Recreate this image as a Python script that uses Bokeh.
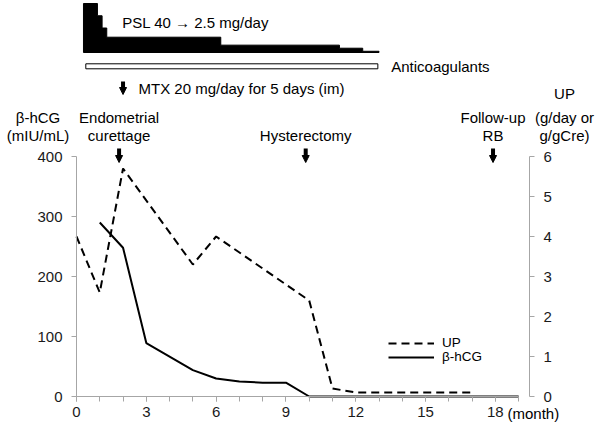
from bokeh.plotting import figure
from bokeh.models import (Range1d, LinearAxis, FixedTicker, SingleIntervalTicker,
                          Label, Arrow, NormalHead, Legend, LegendItem)
from bokeh.embed import file_html
from bokeh.resources import INLINE

# ---------------- data ----------------
months_hcg = [1, 2, 3, 5, 6, 7, 8, 9, 10, 19]
hcg = [290, 248, 89, 44, 30, 25, 23, 23, 0, 0]

months_up = [0, 1, 2, 5, 6, 10, 11, 12, 17]
up = [4.0, 2.6, 5.7, 3.3, 4.0, 2.4, 0.2, 0.1, 0.1]

psl_start = [0.3, 0.9, 1.1, 1.3, 6.2, 11.3, 12.3]
psl_end = [0.9, 1.1, 1.3, 6.2, 11.3, 12.3, 13.0]
psl_dose = [40, 30, 20, 12.5, 6, 3.5, 1]

anticoag_start = [0.4]
anticoag_end = [12.95]

event_month = [1.83, 9.85, 17.9]
event_line1 = ["Endometrial", "", "Follow-up"]
event_line2 = ["curettage", "Hysterectomy", "RB"]
mtx_month = 2.0

hcg_ticks = [0, 100, 200, 300, 400]
up_ticks = [0, 1, 2, 3, 4, 5, 6]

# ---------------- geometry (canvas == frame) ----------------
W, H = 600, 426
X0, XS = 76.0, 23.27      # px of month 0, px per month
Y0, YS = 396.0, 0.6       # px of hCG 0, px per mIU/mL
RIGHT_AXIS_MONTH = (529 - X0) / XS

def ix(px):  # canvas px -> month
    return (px - X0) / XS

def iy(py):  # canvas px -> hCG units
    return (Y0 - py) / YS

FONT = "Liberation Sans"
FS = "15px"
AX_COL = "#a6a6a6"

p = figure(width=W, height=H, output_backend="svg", toolbar_location=None,
           x_range=Range1d(ix(0), ix(W)), y_range=Range1d(iy(H), iy(0)),
           min_border=0, x_axis_type=None, y_axis_type=None)
p.outline_line_color = None
p.grid.visible = False
p.background_fill_color = "white"
p.border_fill_color = "white"

p.extra_y_ranges = {"up": Range1d(iy(H) * 6 / 400.0, iy(0) * 6 / 400.0)}

def style_axis(ax):
    ax.axis_line_color = AX_COL
    ax.major_tick_line_color = AX_COL
    ax.minor_tick_line_color = AX_COL
    ax.major_tick_in = 0
    ax.major_tick_out = 5
    ax.minor_tick_in = 0
    ax.minor_tick_out = 5
    ax.major_label_text_font = FONT
    ax.major_label_text_font_size = FS
    ax.major_label_text_color = "#1a1a1a"

xaxis = LinearAxis(ticker=SingleIntervalTicker(interval=3, num_minor_ticks=3),
                   bounds=(0, 19), fixed_location=0)
style_axis(xaxis)
xaxis.major_label_standoff = 5
p.add_layout(xaxis, "below")

yaxis = LinearAxis(ticker=FixedTicker(ticks=hcg_ticks), bounds=(0, 400), fixed_location=0)
style_axis(yaxis)
yaxis.major_label_standoff = 9
yaxis.minor_tick_line_color = None
p.add_layout(yaxis, "left")

raxis = LinearAxis(y_range_name="up", ticker=FixedTicker(ticks=up_ticks), bounds=(0, 6),
                   fixed_location=RIGHT_AXIS_MONTH)
style_axis(raxis)
raxis.major_label_standoff = 9
raxis.minor_tick_line_color = None
p.add_layout(raxis, "right")

# ---------------- series ----------------
r_up = p.line(months_up, up, y_range_name="up", line_color="black", line_width=2,
              line_dash="8 5")
r_hcg = p.line(months_hcg, hcg, line_color="black", line_width=2)

def one_legend(label, rend, ybottom):
    lg = Legend(items=[LegendItem(label=label, renderers=[rend])],
                location=(388, ybottom), orientation="vertical",
                glyph_width=46, glyph_height=10, label_height=10,
                label_standoff=8, spacing=0, padding=0, margin=0,
                label_text_font=FONT, label_text_font_size="13.5px",
                label_text_color="black",
                border_line_color=None, background_fill_alpha=0)
    p.add_layout(lg)

one_legend("UP", r_up, 76)
one_legend("β-hCG", r_hcg, 62)

# ---------------- PSL steps (one stepped patch) ----------------
PX_PER_MG = 1.225
base = iy(52)
px_, py_ = [psl_start[0]], [base]
for s, e, d in zip(psl_start, psl_end, psl_dose):
    top = iy(52 - d * PX_PER_MG)
    px_ += [s, e]
    py_ += [top, top]
px_.append(psl_end[-1])
py_.append(base)
p.patch(px_, py_, fill_color="black", line_color="black", line_width=1)

p.quad(left=anticoag_start, right=anticoag_end, bottom=[iy(68.3)], top=[iy(63.3)],
       fill_color="white", line_color="black", line_width=1)

def lab(x, y, text, align="left", size=FS):
    p.add_layout(Label(x=x, y=y, text=text, text_align=align, text_baseline="middle",
                       text_font=FONT, text_font_size=size, text_color="black"))

lab(ix(121.7), iy(21.7), "PSL 40 \u2192 2.5 mg/day")
lab(ix(390.7), iy(66), "Anticoagulants")
lab(ix(138), iy(88), "MTX 20 mg/day for 5 days (im)")

def down_arrow(xm, y0, y1):
    p.add_layout(Arrow(end=NormalHead(size=7, fill_color="black", line_color="black",
                                      line_width=1),
                       x_start=xm, y_start=y0, x_end=xm, y_end=y1,
                       line_color="black", line_width=4))

down_arrow(mtx_month, iy(81), iy(94))

for m, l1, l2 in zip(event_month, event_line1, event_line2):
    if l1:
        lab(m, iy(117), l1, align="center")
    lab(m, iy(135), l2, align="center")
    down_arrow(m, iy(148), iy(162))

# axis titles
lab(ix(37.5), iy(117), "β-hCG", align="center")
lab(ix(37.5), iy(135), "(mIU/mL)", align="center")
lab(ix(564), iy(93), "UP", align="center")
lab(ix(564), iy(117), "(g/day or", align="center")
lab(ix(564), iy(135), "g/gCre)", align="center")
lab(ix(507), iy(413), "(month)", align="left")

open("out.html", "w").write(file_html(p, INLINE))
